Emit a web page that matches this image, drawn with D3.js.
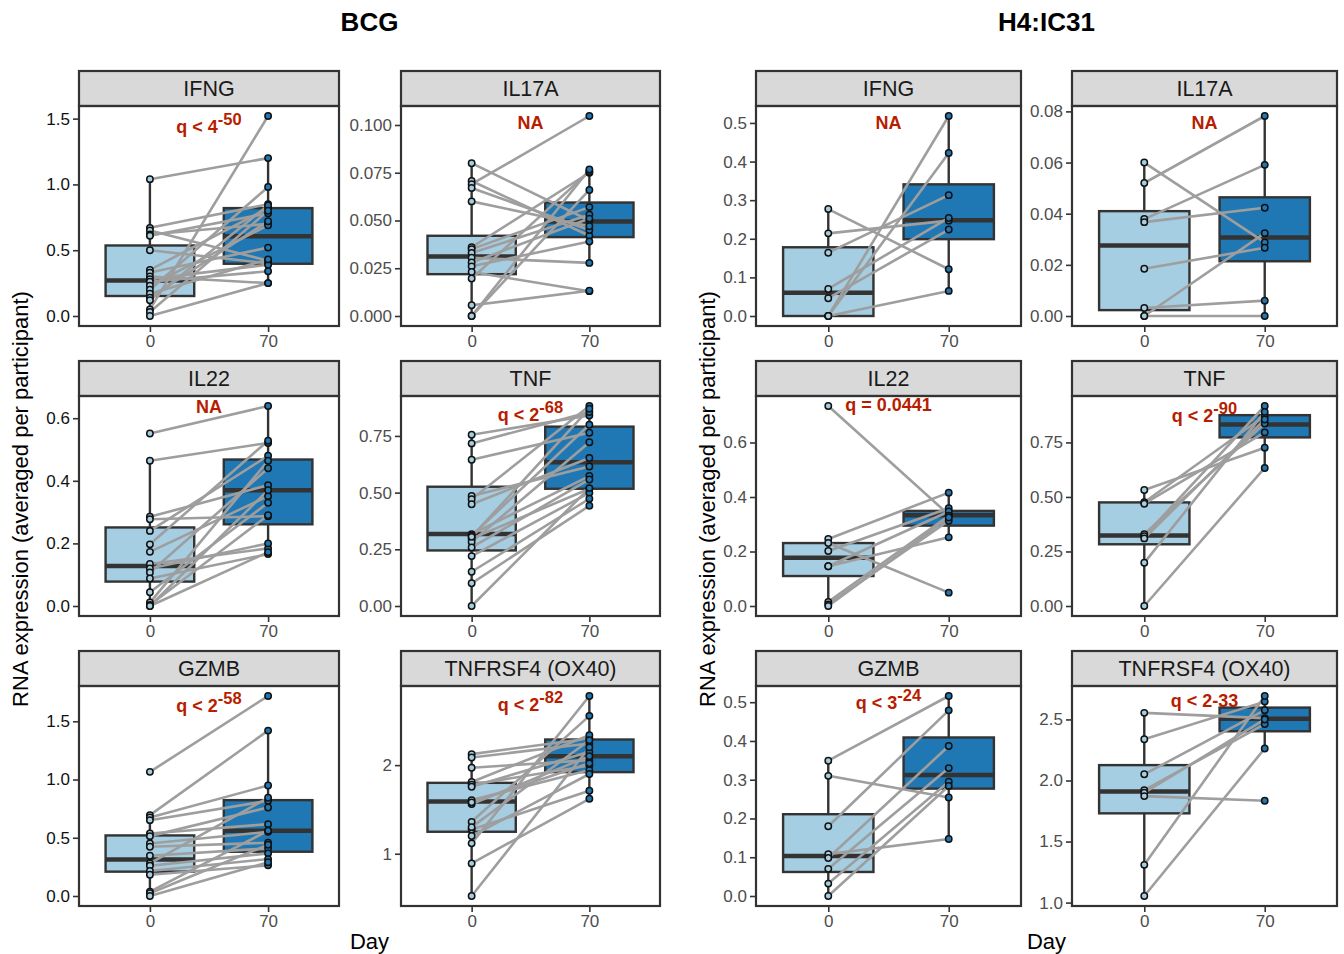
<!DOCTYPE html>
<html>
<head>
<meta charset="utf-8">
<script src="https://cdn.jsdelivr.net/npm/d3@7"></script>
<style>
  body { margin: 0; background: #fff; }
  text { font-family: "Liberation Sans", Arial, sans-serif; }
</style>
</head>
<body>
<div id="chart"></div>
<script>
const days = ['0', '70'];
const groupNames = ['BCG', 'H4:IC31'];
const genes = ['IFNG', 'IL17A', 'IL22', 'TNF', 'GZMB', 'TNFRSF4 (OX40)'];

// paired values per participant, same index = same participant
const bcgDay0 = [
  [1.04, 0.67, 0.65, 0.62, 0.61, 0.50, 0.35, 0.33, 0.30, 0.28, 0.26, 0.23, 0.20, 0.17, 0.14, 0.12, 0.05, 0.03, 0.00],
  [0.080, 0.0707, 0.069, 0.067, 0.060, 0.036, 0.035, 0.033, 0.0305, 0.028, 0.026, 0.023, 0.0196, 0.0056, 0.000, 0.000],
  [0.551, 0.464, 0.285, 0.277, 0.240, 0.197, 0.173, 0.134, 0.120, 0.107, 0.088, 0.044, 0.011, 0.003, 0.0, 0.0],
  [0.755, 0.717, 0.645, 0.485, 0.471, 0.449, 0.317, 0.310, 0.297, 0.282, 0.258, 0.220, 0.151, 0.100, 0.0, 0.305],
  [1.066, 0.694, 0.674, 0.651, 0.537, 0.514, 0.451, 0.423, 0.346, 0.280, 0.260, 0.214, 0.183, 0.037, 0.023, 0.0],
  [2.124, 2.086, 1.97, 1.81, 1.78, 1.756, 1.605, 1.56, 1.36, 1.274, 1.20, 1.117, 0.891, 0.523, 1.58, 1.30]
];
const bcgDay70 = [
  [1.20, 0.85, 0.42, 0.70, 0.78, 0.40, 0.82, 0.52, 0.25, 0.39, 0.34, 0.69, 0.98, 0.43, 0.72, 0.84, 1.52, 0.80, 0.25],
  [0.050, 0.042, 0.1047, 0.045, 0.047, 0.075, 0.057, 0.053, 0.0278, 0.051, 0.039, 0.013, 0.0757, 0.0132, 0.0767, 0.066],
  [0.639, 0.521, 0.386, 0.287, 0.480, 0.528, 0.351, 0.184, 0.200, 0.440, 0.166, 0.330, 0.464, 0.290, 0.370, 0.172],
  [0.840, 0.855, 0.764, 0.615, 0.882, 0.653, 0.573, 0.799, 0.517, 0.722, 0.558, 0.499, 0.473, 0.442, 0.520, 0.870],
  [1.717, 1.420, 0.949, 0.817, 0.617, 0.760, 0.551, 0.457, 0.409, 0.843, 0.366, 0.317, 0.263, 0.560, 0.440, 0.290],
  [2.30, 2.244, 2.056, 2.338, 1.996, 2.15, 1.944, 2.10, 2.556, 1.71, 1.90, 2.78, 1.62, 2.20, 2.02, 2.28]
];
const h4Day0 = [
  [0.277, 0.214, 0.164, 0.070, 0.046, 0, 0, 0],
  [0.060, 0.052, 0.0379, 0.0367, 0.0185, 0.0031, 0.0, 0.0],
  [0.734, 0.246, 0.231, 0.202, 0.146, 0.146, 0.015, 0.006, 0.0],
  [0.532, 0.476, 0.469, 0.329, 0.320, 0.310, 0.198, 0.0],
  [0.349, 0.310, 0.180, 0.108, 0.098, 0.070, 0.032, 0.0],
  [2.554, 2.338, 2.051, 1.921, 1.900, 1.872, 1.309, 1.054]
];
const h4Day70 = [
  [0.121, 0.247, 0.313, 0.254, 0.224, 0.518, 0.422, 0.065],
  [0.0288, 0.0782, 0.0591, 0.0423, 0.0267, 0.006, 0.0, 0.0324],
  [0.335, 0.416, 0.049, 0.359, 0.252, 0.347, 0.331, 0.313, 0.325],
  [0.726, 0.872, 0.796, 0.837, 0.917, 0.855, 0.890, 0.633],
  [0.516, 0.254, 0.479, 0.147, 0.387, 0.330, 0.295, 0.284],
  [2.511, 2.646, 2.576, 2.462, 2.500, 1.834, 2.692, 2.262]
];

// box stats: [lower whisker, q1, median, q3, upper whisker]
const bcgBox0 = [
  [0, 0.152, 0.27, 0.536, 1.04],
  [0, 0.0219, 0.0312, 0.042, 0.080],
  [0, 0.078, 0.128, 0.251, 0.464],
  [0, 0.245, 0.317, 0.526, 0.755],
  [0, 0.209, 0.314, 0.52, 0.694],
  [0.523, 1.248, 1.59, 1.80, 2.124]
];
const bcgBox70 = [
  [0.248, 0.397, 0.607, 0.82, 1.20],
  [0.0278, 0.0413, 0.0495, 0.0594, 0.0767],
  [0.166, 0.261, 0.370, 0.468, 0.639],
  [0.442, 0.517, 0.634, 0.791, 0.882],
  [0.263, 0.380, 0.56, 0.823, 1.42],
  [1.62, 1.921, 2.10, 2.289, 2.78]
];
const h4Box0 = [
  [0, 0, 0.060, 0.178, 0.277],
  [0, 0.0023, 0.0276, 0.041, 0.060],
  [0, 0.110, 0.177, 0.231, 0.246],
  [0, 0.283, 0.323, 0.475, 0.532],
  [0, 0.062, 0.103, 0.211, 0.349],
  [1.054, 1.731, 1.91, 2.126, 2.554]
];
const h4Box70 = [
  [0.065, 0.199, 0.248, 0.341, 0.518],
  [0, 0.0214, 0.0307, 0.0464, 0.0782],
  [0.252, 0.295, 0.333, 0.349, 0.416],
  [0.633, 0.773, 0.832, 0.875, 0.917],
  [0.147, 0.277, 0.312, 0.409, 0.516],
  [2.262, 2.403, 2.505, 2.597, 2.692]
];

// q labels: [text, superscript]
const bcgQ = [['q < 4', '-50'], ['NA', ''], ['NA', ''], ['q < 2', '-68'], ['q < 2', '-58'], ['q < 2', '-82']];
const h4Q = [['NA', ''], ['NA', ''], ['q = 0.0441', ''], ['q < 2', '-90'], ['q < 3', '-24'], ['q < 2-33', '']];

const bcgTicks = [[0, 0.5, 1, 1.5], [0, 0.025, 0.05, 0.075, 0.1], [0, 0.2, 0.4, 0.6], [0, 0.25, 0.5, 0.75], [0, 0.5, 1, 1.5], [1, 2]];
const h4Ticks = [[0, 0.1, 0.2, 0.3, 0.4, 0.5], [0, 0.02, 0.04, 0.06, 0.08], [0, 0.2, 0.4, 0.6], [0, 0.25, 0.5, 0.75], [0, 0.1, 0.2, 0.3, 0.4, 0.5], [1, 1.5, 2, 2.5]];
const bcgTickFmt = ['.1f', '.3f', '.1f', '.2f', '.1f', 'd'];
const h4TickFmt = ['.1f', '.2f', '.1f', '.2f', '.1f', '.1f'];

// layout
const colX = [[79, 339], [401, 660], [756, 1021], [1072, 1337]];
const rowY = [[106, 326], [396, 616], [686, 906]];
const stripH = 35;
const labelDy = [[27, 22.5, 17, 25, 26, 25], [23, 23, 15, 26, 23, 21]];
const fills = ['#a6cee3', '#1f78b4'];
const dark = '#333333';
const qColor = '#b81d00';

const svg = d3.select('#chart').append('svg')
  .attr('width', 1344)
  .attr('height', 954);

const groups = [
  { day0: bcgDay0, day70: bcgDay70, box0: bcgBox0, box70: bcgBox70, q: bcgQ, ticks: bcgTicks, fmt: bcgTickFmt },
  { day0: h4Day0, day70: h4Day70, box0: h4Box0, box70: h4Box70, q: h4Q, ticks: h4Ticks, fmt: h4TickFmt }
];

groups.forEach((grp, gi) => {
  const left = colX[gi * 2][0];
  const right = colX[gi * 2 + 1][1];

  svg.append('text')
    .attr('x', (left + right) / 2)
    .attr('y', 31)
    .attr('text-anchor', 'middle')
    .style('font-size', '26px')
    .style('font-weight', 'bold')
    .text(groupNames[gi]);

  svg.append('text')
    .attr('transform', 'translate(' + (gi === 0 ? 28 : 715) + ',499) rotate(-90)')
    .attr('text-anchor', 'middle')
    .style('font-size', '22px')
    .text('RNA expression (averaged per participant)');

  svg.append('text')
    .attr('x', (left + right) / 2)
    .attr('y', 949)
    .attr('text-anchor', 'middle')
    .style('font-size', '22px')
    .text('Day');

  genes.forEach((gene, i) => {
    const row = Math.floor(i / 2);
    const col = gi * 2 + (i % 2);
    const [x0, x1] = colX[col];
    const [y0, y1] = rowY[row];
    const v0 = grp.day0[i];
    const v70 = grp.day70[i];

    const x = d3.scalePoint().domain(days).range([x0, x1]).padding(0.6);
    const bw = x.step() * 0.75;
    const ext = d3.extent(v0.concat(v70));
    const pad = (ext[1] - ext[0]) * 0.05;
    const y = d3.scaleLinear().domain([ext[0] - pad, ext[1] + pad]).range([y1, y0]);

    const g = svg.append('g');

    // strip
    g.append('rect')
      .attr('x', x0).attr('y', y0 - stripH)
      .attr('width', x1 - x0).attr('height', stripH)
      .attr('fill', '#d9d9d9')
      .attr('stroke', dark).attr('stroke-width', 2.2);
    g.append('text')
      .attr('x', (x0 + x1) / 2)
      .attr('y', y0 - stripH / 2 + 7.5)
      .attr('text-anchor', 'middle')
      .attr('fill', '#1a1a1a')
      .style('font-size', '21.5px')
      .text(gene);

    // boxes
    const boxes = [grp.box0[i], grp.box70[i]];
    boxes.forEach((b, k) => {
      const cx = x(days[k]);
      g.append('line')
        .attr('x1', cx).attr('x2', cx)
        .attr('y1', y(b[4])).attr('y2', y(b[3]))
        .attr('stroke', dark).attr('stroke-width', 2.4);
      g.append('line')
        .attr('x1', cx).attr('x2', cx)
        .attr('y1', y(b[1])).attr('y2', y(b[0]))
        .attr('stroke', dark).attr('stroke-width', 2.4);
      g.append('rect')
        .attr('x', cx - bw / 2).attr('y', y(b[3]))
        .attr('width', bw).attr('height', Math.max(0, y(b[1]) - y(b[3])))
        .attr('fill', fills[k])
        .attr('stroke', dark).attr('stroke-width', 2.4);
      g.append('line')
        .attr('x1', cx - bw / 2).attr('x2', cx + bw / 2)
        .attr('y1', y(b[2])).attr('y2', y(b[2]))
        .attr('stroke', dark).attr('stroke-width', 4.5);
    });

    // paired lines
    g.selectAll('line.pair')
      .data(v0.map((d, j) => [d, v70[j]]))
      .enter().append('line')
        .attr('class', 'pair')
        .attr('x1', x('0')).attr('y1', d => y(d[0]))
        .attr('x2', x('70')).attr('y2', d => y(d[1]))
        .attr('stroke', '#9e9e9e')
        .attr('stroke-width', 2.6);

    // points
    [v0, v70].forEach((vals, k) => {
      g.selectAll('circle.d' + k)
        .data(vals)
        .enter().append('circle')
          .attr('class', 'd' + k)
          .attr('cx', x(days[k]))
          .attr('cy', d => y(d))
          .attr('r', 3.2)
          .attr('fill', fills[k])
          .attr('stroke', '#111')
          .attr('stroke-width', 1.5);
    });

    // q label
    const q = grp.q[i];
    const qt = g.append('text')
      .attr('x', (x0 + x1) / 2)
      .attr('y', y0 + labelDy[gi][i])
      .attr('text-anchor', 'middle')
      .attr('fill', qColor)
      .style('font-size', '18px')
      .style('font-weight', 'bold');
    qt.append('tspan').text(q[0]);
    if (q[1]) {
      qt.append('tspan').attr('dy', -8).style('font-size', '16.5px').text(q[1]);
    }

    // panel border
    g.append('rect')
      .attr('x', x0).attr('y', y0)
      .attr('width', x1 - x0).attr('height', y1 - y0)
      .attr('fill', 'none')
      .attr('stroke', dark).attr('stroke-width', 2.2);

    // axes
    const yAxis = g.append('g')
      .attr('transform', 'translate(' + (x0 - 1) + ',0)')
      .call(d3.axisLeft(y).tickValues(grp.ticks[i]).tickFormat(d3.format(grp.fmt[i])).tickSize(5).tickPadding(3));
    const xAxis = g.append('g')
      .attr('transform', 'translate(0,' + (y1 + 1) + ')')
      .call(d3.axisBottom(x).tickSize(5).tickPadding(3));

    [yAxis, xAxis].forEach(ax => {
      ax.select('.domain').remove();
      ax.selectAll('line').attr('stroke', dark).attr('stroke-width', 1.6);
      ax.selectAll('text')
        .attr('fill', '#4d4d4d')
        .style('font-size', '17px')
        .style('font-family', '"Liberation Sans", Arial, sans-serif');
    });
    if (col === 0) yAxis.selectAll('text').attr('fill', '#111');
  });
});
</script>
</body>
</html>
